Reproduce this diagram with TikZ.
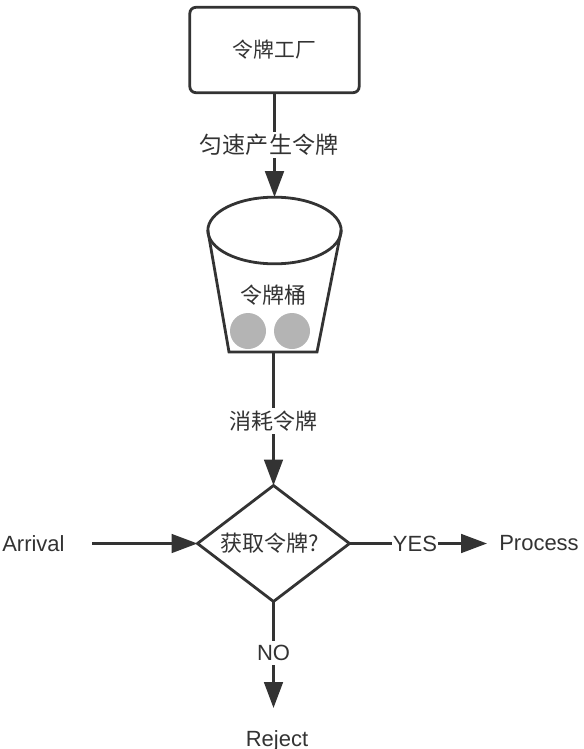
\documentclass[tikz,border=0pt]{standalone}
\usepackage{fontspec}
\setmainfont{Liberation Sans}
\newfontfamily\cjk{Noto Sans CJK SC}
\usetikzlibrary{shapes.geometric,arrows.meta}
\definecolor{ink}{HTML}{333333}
\definecolor{ballgray}{HTML}{B4B4B4}
\tikzset{
  px/.style={x=0.75pt,y=-0.75pt},
  linkline/.style={draw=ink,line width=2.1pt},
  arrowline/.style={linkline,-{Triangle[length=19.5pt,width=14pt,fill=ink]}},
  boxshape/.style={draw=ink,line width=2.1pt,rounded corners=4.5pt,minimum width=127pt,minimum height=64pt,inner sep=0pt,outer sep=0pt},
  rimshape/.style={ellipse,draw=ink,line width=2.1pt,minimum width=100pt,minimum height=50pt,inner sep=0pt,outer sep=0pt},
  diashape/.style={diamond,draw=ink,line width=2.1pt,minimum width=114pt,minimum height=87pt,inner sep=0pt,outer sep=0pt},
  ball/.style={circle,fill=ballgray,minimum size=27pt,inner sep=0pt},
  lab/.style={text=ink,font=\cjk\fontsize{16.5pt}{18pt}\selectfont,inner sep=0pt},
  gaplab/.style={text=ink,font=\cjk\fontsize{17.3pt}{18pt}\selectfont,fill=white,inner sep=2pt},
  lat/.style={text=ink,font=\fontsize{16.5pt}{18pt}\selectfont,inner sep=0pt,anchor=base},
}
\begin{document}
\begin{tikzpicture}[px]
\useasboundingbox (0,0) rectangle (583,749);
\clip (0,0) rectangle (583,749);
% nodes
\node[boxshape,lab,font=\cjk\fontsize{15.6pt}{18pt}\selectfont] (factory) at (274.5,50) {令牌工厂};
\node[ball] (b1) at (248,331) {};
\node[ball] (b2) at (292,331) {};
\coordinate (botl) at (229,352);
\coordinate (botr) at (317,352);
\node[rimshape] (rim) at (274.5,230.5) {};
\draw[linkline,line join=miter] (rim.west) -- (botl) -- (botr) -- (rim.east);
\coordinate (bucketbottom) at (273.5,352);
\node[lab] (bucket) at (273.5,295) {令牌桶};
\node[diashape] (gate) at (273.5,543.5) {};
\node[lab] (gatetext) at (269.5,543.5) {获取令牌?};
\node[lat,anchor=west] (arrival) at (2,543.5) {Arrival};
\coordinate (arrivalend) at (92,543.5);
\node[lat,anchor=west] (process) at (499,543.5) {Process};
\node[lat,anchor=center] (reject) at (277,741) {Reject};
\coordinate (rejectend) at (273.5,708);
\coordinate (procend) at (487,543.5);
% connectors
\draw[arrowline] (factory.south) -- (rim.north);
\node[gaplab] at (269,145) {匀速产生令牌};
\draw[arrowline] (bucketbottom) -- (gate.north);
\node[gaplab,font=\cjk\fontsize{16.5pt}{18pt}\selectfont] at (273,421) {消耗令牌};
\draw[arrowline] (arrivalend) -- (gate.west);
\draw[arrowline] (gate.east) -- (procend);
\node[lat,anchor=center,fill=white,inner xsep=1pt,inner ysep=2pt] at (415,543.5) {YES};
\draw[arrowline] (gate.south) -- (rejectend);
\node[lat,anchor=center,fill=white,inner xsep=1pt,inner ysep=3pt] at (273.5,653) {NO};
\end{tikzpicture}
\end{document}
